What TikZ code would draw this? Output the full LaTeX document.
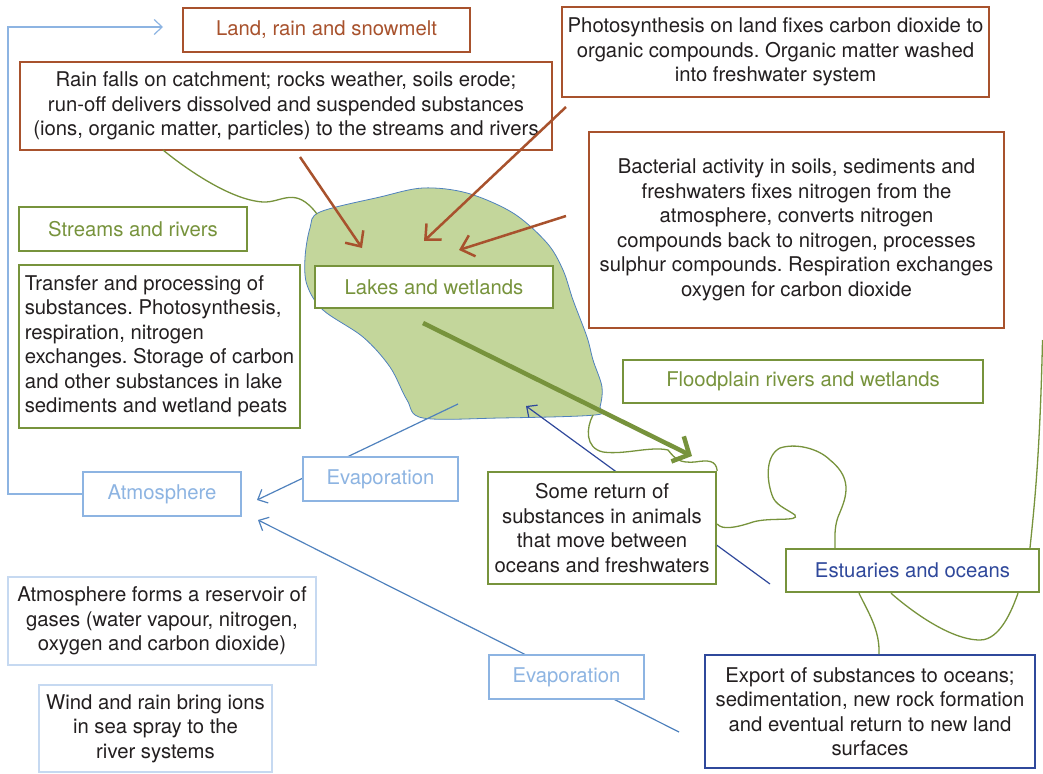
\documentclass[tikz,border=0pt]{standalone}
\usepackage{fontspec}
\setmainfont{TeX Gyre Heros}
\usetikzlibrary{arrows.meta}
\definecolor{brn}{RGB}{168,82,45}
\definecolor{grn}{RGB}{119,147,60}
\definecolor{lblue}{RGB}{141,180,226}
\definecolor{vlblue}{RGB}{198,217,241}
\definecolor{mblue}{RGB}{79,129,189}
\definecolor{dblue}{RGB}{47,72,155}
\definecolor{lakefill}{RGB}{195,214,155}
\definecolor{txt}{RGB}{35,31,32}
\frenchspacing
\begin{document}
\begin{tikzpicture}[x=1pt,y=-1pt,
  every node/.style={font=\fontsize{20.3}{24.5}\selectfont\frenchspacing, inner sep=0pt, align=center, text=txt},
  box/.style={draw, fill=white},
  brownbox/.style={box, draw=brn, line width=1.5pt},
  greenbox/.style={box, draw=grn, line width=2.4pt},
  lbluebox/.style={box, draw=lblue, line width=2.4pt},
  vlbluebox/.style={box, draw=vlblue, line width=2.2pt},
  dbluebox/.style={box, draw=dblue, line width=2pt},
  squiggle/.style={draw=grn, line width=1.3pt},
  brownarrow/.style={draw=brn, line width=2.5pt, -{Straight Barb[length=12pt,width=22pt]}},
  bluearrow/.style={line width=1.2pt, -{Straight Barb[length=8pt,width=15pt]}},
]
\useasboundingbox (0,0) rectangle (1043,773);

% lake
\draw[mblue, line width=0.8pt, fill=lakefill] plot[smooth cycle, tension=0.55] coordinates {
 (320,212) (380,197) (423,188) (467,193) (513,213) (547,243) (563,270) (573,300)
 (587,337) (593,360) (602,387) (600,407) (595,415) (500,418) (423,418) (407,400)
 (390,367) (363,337) (323,310) (307,285) (305,258) (310,228)};

% free coordinates
\coordinate (raingreen) at (163,150);
\coordinate (lakebr) at (593,415);
\coordinate (farright) at (1042.5,340);
\coordinate (lakeevap) at (458,404);
\coordinate (atmtipa) at (257,500);
\coordinate (atmtipb) at (258,520);
\coordinate (exportevap) at (679,732);
\coordinate (returnsrc) at (770,584);
\coordinate (returntip) at (526,406);
\coordinate (corner1) at (8,494);
\coordinate (corner2) at (8,27);
\coordinate (landtip) at (163,27);
\coordinate (br1s) at (300,157);
\coordinate (br1t) at (362,248);
\coordinate (br2s) at (566,107);
\coordinate (br2t) at (424,241);
\coordinate (br3s) at (566,216);
\coordinate (br3t) at (459,250);
\coordinate (gs) at (423,323);
\coordinate (gt) at (692,456);

% blue lines under boxes
\draw[bluearrow, draw=mblue] (lakeevap) -- (atmtipa);
\draw[bluearrow, draw=mblue] (exportevap) -- (atmtipb);
\draw[bluearrow, draw=dblue] (returnsrc) -- (returntip);

% boxes
\node[brownbox, minimum width=287pt, minimum height=44pt, text=brn] (land) at (326.5,30) {Land, rain and snowmelt};
\node[brownbox, minimum width=532pt, minimum height=88pt] (rain) at (286,106) {Rain falls on catchment; rocks weather, soils erode;\\run-off delivers dissolved and suspended substances\\(ions, organic matter, particles) to the streams and rivers};
\node[brownbox, minimum width=427pt, minimum height=90pt] (photo) at (775.5,52) {Photosynthesis on land fixes carbon dioxide to\\organic compounds. Organic matter washed\\into freshwater system};
\node[brownbox, minimum width=415pt, minimum height=196pt] (bact) at (796.5,230) {Bacterial activity in soils, sediments and\\freshwaters fixes nitrogen from the\\atmosphere, converts nitrogen\\compounds back to nitrogen, processes\\sulphur compounds. Respiration exchanges\\oxygen for carbon dioxide};
\node[greenbox, minimum width=228pt, minimum height=44pt, text=grn] (streams) at (133,229) {Streams and rivers};
\node[greenbox, minimum width=281pt, minimum height=163pt, align=left] (transfer) at (159.5,346.5) {Transfer and processing of\\substances. Photosynthesis,\\respiration, nitrogen\\exchanges. Storage of carbon\\and other substances in lake\\sediments and wetland peats};
\node[greenbox, minimum width=238pt, minimum height=42pt, text=grn] (lakes) at (434,287) {Lakes and wetlands};
\node[greenbox, minimum width=360pt, minimum height=43pt, text=grn] (flood) at (803,381.5) {Floodplain rivers and wetlands};
\node[greenbox, minimum width=228pt, minimum height=112pt] (ret) at (602,528) {Some return of\\substances in animals\\that move between\\oceans and freshwaters};
\node[greenbox, minimum width=253pt, minimum height=43pt, text=dblue] (estu) at (912.5,570.5) {Estuaries and oceans};
\node[dbluebox, minimum width=330pt, minimum height=113pt] (export) at (870,711.5) {Export of substances to oceans;\\sedimentation, new rock formation\\and eventual return to new land\\surfaces};
\node[lbluebox, minimum width=158pt, minimum height=44pt, text=lblue] (atm) at (162,494) {Atmosphere};
\node[lbluebox, minimum width=155pt, minimum height=44pt, text=lblue] (evap1) at (380.5,479) {Evaporation};
\node[lbluebox, minimum width=155pt, minimum height=44pt, text=lblue] (evap2) at (566.5,677) {Evaporation};
\node[vlbluebox, minimum width=308pt, minimum height=88pt] (reserv) at (162,621) {Atmosphere forms a reservoir of\\gases (water vapour, nitrogen,\\oxygen and carbon dioxide)};
\node[vlbluebox, minimum width=233pt, minimum height=87pt] (wind) at (155.5,728.5) {Wind and rain bring ions\\in sea spray to the\\river systems};

% feedback from atmosphere to land
\draw[bluearrow, draw=lblue] (atm.west) -- (corner1) -- (corner2) -- (landtip);

% green squiggles
\draw[squiggle] (raingreen) .. controls (185,168) and (230,200) .. (263,202)
  .. controls (282,203) and (295,185) .. (317,214);
\draw[squiggle] (lakebr) .. controls (586,428) and (585,448) .. (603,452)
  .. controls (625,455) and (650,446) .. (668,450)
  .. controls (676,460) and (680,463) .. (695,462)
  .. controls (708,460) and (716,460) .. (ret.north east);
\draw[squiggle] (ret.east |- 0,524) .. controls (722,530) and (735,528) .. (753,522)
  .. controls (770,517) and (800,522) .. (795,515)
  .. controls (785,508) and (775,505) .. (772,495)
  .. controls (766,478) and (766,455) .. (780,448)
  .. controls (795,443) and (818,448) .. (830,460)
  .. controls (855,480) and (845,500) .. (838,517)
  .. controls (834,528) and (835,540) .. (estu.north west -| 835,0);
\draw[squiggle] (farright) .. controls (1040,450) and (1035,500) .. (estu.north east -| 1030,0);
\draw[squiggle] (estu.south west -| 859,0) .. controls (868,612) and (880,630) .. (export.north west -| 879,0);
\draw[squiggle] (estu.south west -| 891,0) .. controls (910,610) and (950,640) .. (980,640)
  .. controls (1000,640) and (1012,610) .. (estu.south east -| 1018,0);

% brown arrows
\draw[brownarrow] (br1s) -- (br1t);
\draw[brownarrow] (br2s) -- (br2t);
\draw[brownarrow] (br3s) -- (br3t);

% thick green arrow
\draw[draw=grn, line width=4.5pt, -{Straight Barb[length=13pt,width=28pt]}] (gs) -- (gt);
\end{tikzpicture}
\end{document}
